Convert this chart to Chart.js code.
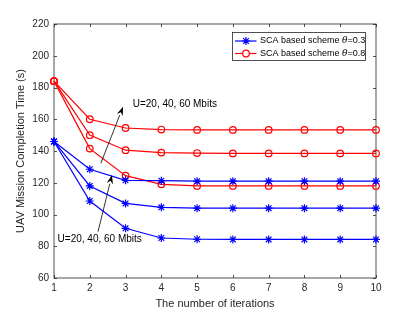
<!DOCTYPE html>
<html><head><meta charset="utf-8">
<script src="https://cdn.jsdelivr.net/npm/chart.js@4.4.0/dist/chart.umd.min.js"></script>
<style>html,body{margin:0;padding:0;background:#fff}#wrap{width:415px;height:312px}</style>
</head><body><div id="wrap"><canvas id="c" width="415" height="312"></canvas></div>
<script>
const iterations = [1,2,3,4,5,6,7,8,9,10];
const blueLow  = [146,108.5,91.3,85.2,84.4,84.3,84.3,84.3,84.3,84.3];
const blueMid  = [146,118,107,104.5,104,104,104,104,104,104];
const blueHigh = [146,128.5,121.5,121.3,121,121,121,121,121,121];
const redLow   = [184,141.5,124.5,119,118,118,118,118,118,118];
const redMid   = [184,150,140.5,139,138.7,138.5,138.5,138.5,138.5,138.5];
const redHigh  = [184,160,154.5,153.5,153.3,153.3,153.3,153.3,153.3,153.3];
const yTicks = [60,80,100,120,140,160,180,200,220];
const legendLabels = ['SCA based scheme ', 'SCA based scheme '];
const legendTheta = ['0.3','0.8'];
const annoText = 'U=20, 40, 60 Mbits';
const xTitle = 'The number of iterations';
const yTitle = 'UAV Mission Completion Time (s)';

const FONT = '"Liberation Sans", Arial, sans-serif';
const AX = '#262626';

function pts(arr){ return arr.map((v,i)=>({x:iterations[i], y:v})); }
function blueDs(arr){ return {label:'SCA based scheme θ=0.3', data:pts(arr), borderColor:'#0000ff', backgroundColor:'#0000ff', borderWidth:1.2, pointStyle:'star', pointRadius:4, pointBorderWidth:1.2, pointBorderColor:'#0000ff', clip:false}; }
function redDs(arr){ return {label:'SCA based scheme θ=0.8', data:pts(arr), borderColor:'#ff0000', backgroundColor:'rgba(0,0,0,0)', borderWidth:1.2, pointStyle:'circle', pointRadius:3.3, pointBorderWidth:1.2, pointBorderColor:'#ff0000', clip:false}; }

function arrow(ctx, x1,y1,x2,y2){
  ctx.save();
  ctx.strokeStyle='#000'; ctx.fillStyle='#000'; ctx.lineWidth=0.8;
  const a=Math.atan2(y2-y1,x2-x1), L=9, W=3.2;
  const bx=x2-L*Math.cos(a), by=y2-L*Math.sin(a);
  ctx.beginPath(); ctx.moveTo(x1,y1); ctx.lineTo(bx,by); ctx.stroke();
  ctx.beginPath(); ctx.moveTo(x2,y2);
  ctx.lineTo(bx+W*Math.sin(a), by-W*Math.cos(a));
  ctx.lineTo(bx+0.35*L*Math.cos(a), by+0.35*L*Math.sin(a));
  ctx.lineTo(bx-W*Math.sin(a), by+W*Math.cos(a));
  ctx.closePath(); ctx.fill();
  ctx.restore();
}

const decor = {
  id:'decor',
  beforeDatasetsDraw(chart){
    const {ctx, chartArea:ca, scales:{x,y}} = chart;
    ctx.save();
    ctx.strokeStyle=AX; ctx.lineWidth=0.8;
    ctx.strokeRect(ca.left, ca.top, ca.right-ca.left, ca.bottom-ca.top);
    ctx.beginPath();
    iterations.forEach(v=>{ const px=Math.round(x.getPixelForValue(v))+0.5;
      ctx.moveTo(px,ca.bottom); ctx.lineTo(px,ca.bottom-3);
      ctx.moveTo(px,ca.top); ctx.lineTo(px,ca.top+3); });
    yTicks.forEach(v=>{ const py=Math.round(y.getPixelForValue(v))+0.5;
      ctx.moveTo(ca.left,py); ctx.lineTo(ca.left+3,py);
      ctx.moveTo(ca.right,py); ctx.lineTo(ca.right-3,py); });
    ctx.stroke();
    ctx.restore();
  },
  afterDraw(chart){
    const {ctx, chartArea:ca, scales:{x,y}} = chart;
    ctx.save();
    ctx.fillStyle=AX; ctx.font='11px '+FONT; ctx.textAlign='center'; ctx.textBaseline='middle';
    ctx.fillText(xTitle, (ca.left+ca.right)/2, 304);
    ctx.save(); ctx.translate(20.5,(ca.top+ca.bottom)/2); ctx.rotate(-Math.PI/2);
    ctx.fillText(yTitle,0,0); ctx.restore();
    ctx.fillStyle='#000'; ctx.font='10px '+FONT; ctx.textAlign='left';
    ctx.fillText(annoText, x.getPixelForValue(3.2), y.getPixelForValue(169.4));
    ctx.fillText(annoText, x.getPixelForValue(1.1), y.getPixelForValue(84.4));
    arrow(ctx, x.getPixelForValue(2.31), y.getPixelForValue(132.3), x.getPixelForValue(2.93), y.getPixelForValue(167.9));
    arrow(ctx, x.getPixelForValue(2.23), y.getPixelForValue(89.2), x.getPixelForValue(2.62), y.getPixelForValue(124.9));
    const lx=232.5, ly=32.5, lw=133, lh=28;
    ctx.fillStyle='#fff'; ctx.fillRect(lx,ly,lw,lh);
    ctx.strokeStyle=AX; ctx.lineWidth=0.8; ctx.strokeRect(lx,ly,lw,lh);
    const rows=[{c:'#0000ff',s:'star',yy:41},{c:'#ff0000',s:'circle',yy:53.5}];
    rows.forEach((r,i)=>{
      ctx.strokeStyle=r.c; ctx.lineWidth=1.2;
      ctx.beginPath(); ctx.moveTo(235,r.yy); ctx.lineTo(256.5,r.yy); ctx.stroke();
      if(r.s==='circle'){ ctx.fillStyle='#fff'; ctx.beginPath(); ctx.arc(246,r.yy,3.3,0,Math.PI*2); ctx.fill(); ctx.stroke(); }
      else { Chart.helpers.drawPoint(ctx,{pointStyle:'star',radius:4,borderWidth:1.2},246,r.yy); }
      ctx.fillStyle='#000'; ctx.font='9px '+FONT; ctx.textAlign='left'; ctx.textBaseline='middle';
      let tx=260; ctx.fillText(legendLabels[i],tx,r.yy); tx+=ctx.measureText(legendLabels[i]).width;
      ctx.font='italic 9px "DejaVu Serif", serif'; ctx.fillText('θ',tx,r.yy); tx+=ctx.measureText('θ').width;
      ctx.font='9px '+FONT; ctx.fillText('='+legendTheta[i],tx,r.yy);
    });
    ctx.restore();
  }
};

new Chart(document.getElementById('c'), {
  type:'line',
  data:{ datasets:[ blueDs(blueHigh), blueDs(blueMid), blueDs(blueLow), redDs(redHigh), redDs(redMid), redDs(redLow) ] },
  options:{
    responsive:false, animation:false, devicePixelRatio:1,
    layout:{ padding:{top:24, right:39, left:0, bottom:0} },
    plugins:{ legend:{display:false}, tooltip:{enabled:false} },
    elements:{ line:{tension:0} },
    scales:{
      x:{ type:'linear', min:1, max:10,
          grid:{display:false, drawTicks:false}, border:{display:false},
          ticks:{ stepSize:1, color:AX, font:{family:FONT,size:10}, padding:4, maxRotation:0 },
          afterFit(s){ s.height=34; } },
      y:{ type:'linear', min:60, max:220,
          grid:{display:false, drawTicks:false}, border:{display:false},
          ticks:{ stepSize:20, color:AX, font:{family:FONT,size:10}, padding:5 },
          afterFit(s){ s.width=54; } }
    }
  },
  plugins:[decor]
});
</script></body></html>
